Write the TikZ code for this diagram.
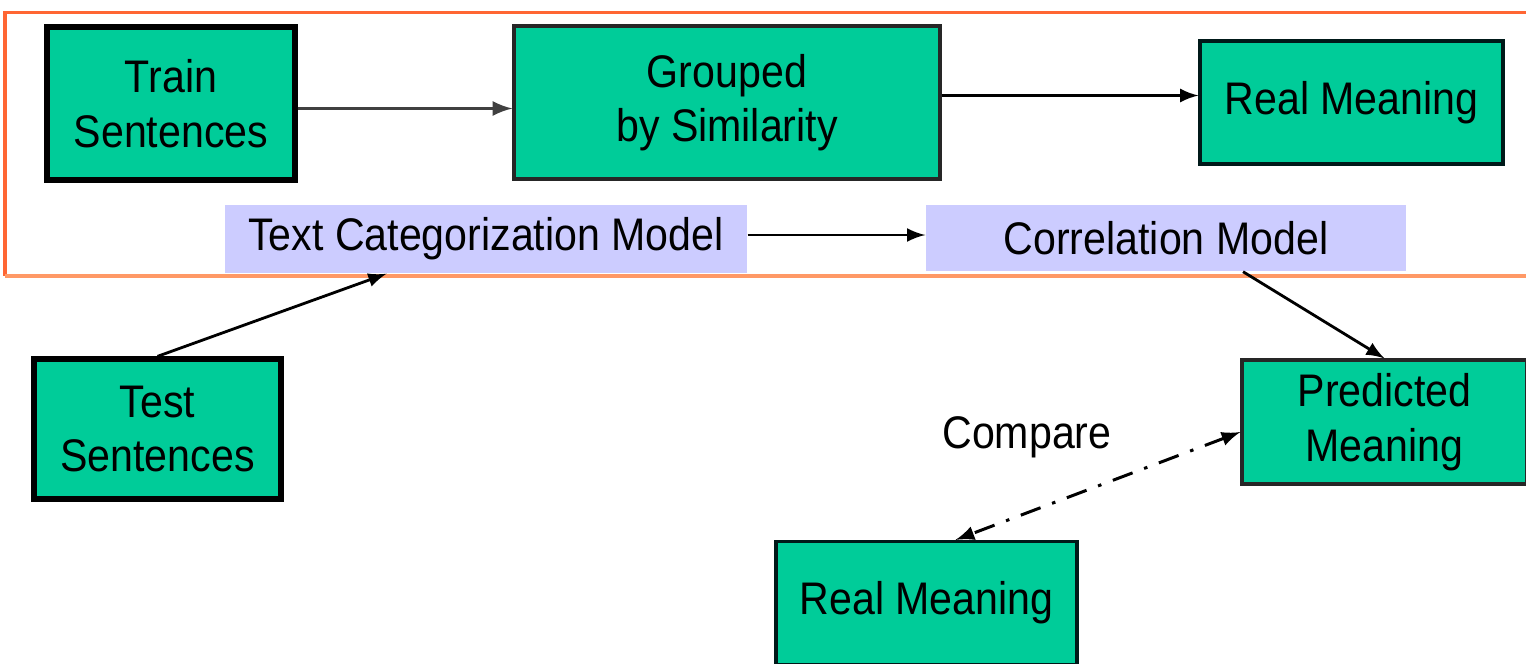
\documentclass[tikz,border=0pt]{standalone}
\usepackage{fontspec}
\setmainfont{Liberation Sans}[FakeStretch=0.9]
\usepackage{xcolor}
\usepackage{tikz}
\usetikzlibrary{calc}
\definecolor{boxgreen}{HTML}{00CC99}
\definecolor{modelblue}{HTML}{CCCCFF}
\definecolor{framered}{HTML}{FF6633}
\definecolor{frameorange}{HTML}{FF9966}
\begin{document}
\begin{tikzpicture}[
		font=\fontsize{13}{15.5}\selectfont,
		box/.style={fill=boxgreen,draw=black!85,line width=0.9pt,align=center,inner sep=0pt},
		model/.style={fill=modelblue,inner sep=0pt},
		link/.style={->,>=latex,line width=0.8pt}]
		\def\fw{0.9pt}
		\clip (0,0) rectangle (15.26,-6.64);
		% frame round the training part
		\draw [framered,line width=\fw] (15.4,-0.125) -- (0.05,-0.125) -- (0.05,-2.76);
		\draw [frameorange,line width=\fw] (0.05,-2.76) -- (15.4,-2.76);
		\node [box,draw=black,line width=1.5pt,minimum width=2.48cm,minimum height=1.53cm] (train) at (1.71,-1.035) {Train\\Sentences};
		\node [box,minimum width=4.26cm,minimum height=1.53cm] (group) at (7.27,-1.025) {Grouped\\by Similarity};
		\node [box,draw=black!80!teal,minimum width=3.03cm,minimum height=1.23cm] (realtop) at (13.515,-1.025) {Real Meaning};
		\node [model,minimum width=5.22cm,minimum height=0.68cm] (tcm) at (4.86,-2.39) {Text Categorization Model};
		\node [model,minimum width=4.8cm,minimum height=0.66cm] (corr) at (11.66,-2.38) {Correlation Model};
		\node [box,draw=black,line width=1.5pt,minimum width=2.47cm,minimum height=1.4cm] (test) at (1.575,-4.29) {Test\\Sentences};
		\node [box,minimum width=2.85cm,minimum height=1.24cm] (pred) at (13.845,-4.22) {Predicted\\Meaning};
		\node [box,draw=black!80!teal,minimum width=3.01cm,minimum height=1.23cm] (realbot) at (9.265,-6.03) {Real Meaning};
		\node (cmp) at (10.27,-4.37) {Compare};
		% connectors
		\draw [link,black!75,line width=0.95pt] ([yshift=-0.05cm]train.east) -- ([yshift=-0.05cm]train.east -| group.west);
		\draw [link] ([yshift=0.07cm]group.east) -- ([yshift=0.07cm]group.east -| realtop.west);
		\draw [link] ([yshift=0.04cm]tcm.east) -- ([yshift=0.04cm]tcm.east -| corr.west);
		\draw [link] (test.north) -- ($(tcm.south west)!0.31!(tcm.south east)$);
		\draw [link] ($(corr.south west)!0.66!(corr.south east)$) -- (pred.north);
		\draw [<->,>=latex,line width=0.85pt,dash pattern=on 6pt off 3.5pt on 1pt off 3.5pt] ([yshift=-0.1cm]pred.west) -- ([xshift=0.29cm]realbot.north);
	\end{tikzpicture}
\end{document}
